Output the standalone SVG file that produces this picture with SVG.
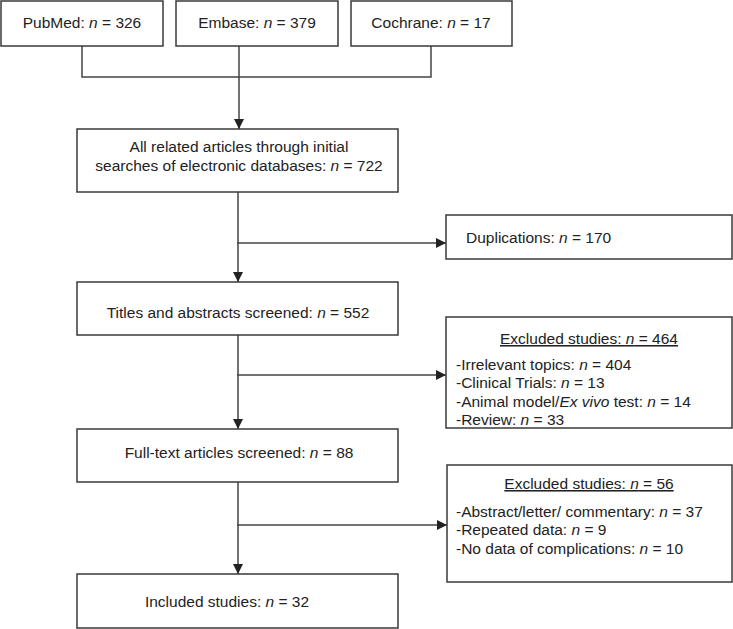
<svg xmlns="http://www.w3.org/2000/svg" width="733" height="629" viewBox="0 0 733 629">
<style>
.box{fill:#fff;stroke:#3a3a3a;stroke-width:1.5}
.t{font-family:"Liberation Sans",Arial,sans-serif;font-size:15.5px;fill:#222}
.c{text-anchor:middle}
.con{fill:none;stroke:#444;stroke-width:1.5}
.u{text-decoration:underline}
</style>
<defs>
<marker id="ah" markerUnits="userSpaceOnUse" markerWidth="11" markerHeight="11" refX="10" refY="5" orient="auto">
<path d="M0,0 L10,5 L0,10 z" fill="#222"/>
</marker>
</defs>
<rect width="733" height="629" fill="#fff"/>
<g id="connectors">
<path class="con" d="M82,46 V77 H431 V46"/>
<path class="con" d="M239,46 V129" marker-end="url(#ah)"/>
<path class="con" d="M238,192 V282" marker-end="url(#ah)"/>
<path class="con" d="M237,243 H446" marker-end="url(#ah)"/>
<path class="con" d="M238,335 V429" marker-end="url(#ah)"/>
<path class="con" d="M237,375 H446" marker-end="url(#ah)"/>
<path class="con" d="M238,482 V574" marker-end="url(#ah)"/>
<path class="con" d="M237,525 H447" marker-end="url(#ah)"/>
</g>
<g id="pubmed">
<rect class="box" x="1" y="1" width="162" height="45"/>
<text class="t c" x="82" y="27.5">PubMed: <tspan font-style="italic">n</tspan> = 326</text>
</g>
<g id="embase">
<rect class="box" x="176" y="1" width="162" height="45"/>
<text class="t c" x="257" y="27.5">Embase: <tspan font-style="italic">n</tspan> = 379</text>
</g>
<g id="cochrane">
<rect class="box" x="351" y="1" width="161" height="45"/>
<text class="t c" x="431" y="27.5">Cochrane: <tspan font-style="italic">n</tspan> = 17</text>
</g>
<g id="allrelated">
<rect class="box" x="77" y="129" width="321" height="63"/>
<text class="t c" x="239" y="151.5">All related articles through initial</text>
<text class="t c" x="239" y="170.5">searches of electronic databases: <tspan font-style="italic">n</tspan> = 722</text>
</g>
<g id="duplications">
<rect class="box" x="446" y="215" width="286" height="44"/>
<text class="t" x="466" y="242.5">Duplications: <tspan font-style="italic">n</tspan> = 170</text>
</g>
<g id="titles">
<rect class="box" x="77" y="282" width="321" height="53"/>
<text class="t c" x="238" y="317.5">Titles and abstracts screened: <tspan font-style="italic">n</tspan> = 552</text>
</g>
<g id="excluded1">
<rect class="box" x="446" y="317" width="286" height="111"/>
<text class="t c u" x="589" y="344">Excluded studies: <tspan font-style="italic">n</tspan> = 464</text>
<text class="t" x="456" y="369.5">-Irrelevant topics: <tspan font-style="italic">n</tspan> = 404</text>
<text class="t" x="456" y="388">-Clinical Trials: <tspan font-style="italic">n</tspan> = 13</text>
<text class="t" x="456" y="406.5">-Animal model/<tspan font-style="italic">Ex vivo</tspan> test: <tspan font-style="italic">n</tspan> = 14</text>
<text class="t" x="456" y="425">-Review: <tspan font-style="italic">n</tspan> = 33</text>
</g>
<g id="fulltext">
<rect class="box" x="77" y="429" width="321" height="53"/>
<text class="t c" x="239" y="457.5">Full-text articles screened: <tspan font-style="italic">n</tspan> = 88</text>
</g>
<g id="excluded2">
<rect class="box" x="447" y="465" width="285" height="117"/>
<text class="t c u" x="589" y="489">Excluded studies: <tspan font-style="italic">n</tspan> = 56</text>
<text class="t" x="456" y="516.5">-Abstract/letter/ commentary: <tspan font-style="italic">n</tspan> = 37</text>
<text class="t" x="456" y="535">-Repeated data: <tspan font-style="italic">n</tspan> = 9</text>
<text class="t" x="456" y="553.5">-No data of complications: <tspan font-style="italic">n</tspan> = 10</text>
</g>
<g id="included">
<rect class="box" x="77" y="574" width="321" height="54"/>
<text class="t c" x="227" y="607">Included studies: <tspan font-style="italic">n</tspan> = 32</text>
</g>
</svg>
